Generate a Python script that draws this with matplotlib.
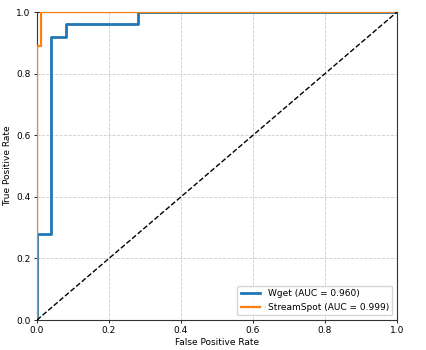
import matplotlib
matplotlib.use("Agg")
import matplotlib.pyplot as plt

wget_fpr = [0.0, 0.0, 0.04, 0.04, 0.08, 0.08, 0.28, 0.28, 1.0]
wget_tpr = [0.0, 0.28, 0.28, 0.92, 0.92, 0.96, 0.96, 1.0, 1.0]
ss_fpr = [0.0, 0.0, 0.01, 0.01, 1.0]
ss_tpr = [0.0, 0.89, 0.89, 1.0, 1.0]
labels = ["Wget (AUC = 0.960)", "StreamSpot (AUC = 0.999)"]

plt.rcParams['font.size'] = 6.5
fig = plt.figure(figsize=(4.26, 3.5), dpi=100)
ax = fig.add_axes([37/426, 1 - 320/350, 360/426, 308/350])
ax.plot(wget_fpr, wget_tpr, color="#1f77b4", lw=2, label=labels[0], zorder=2.6)
ax.plot(ss_fpr, ss_tpr, color="#ff7f0e", lw=1.6, label=labels[1], zorder=2.7)
ax.plot([0, 1], [0, 1], "k--", lw=1, zorder=2.8)
ax.set_xlim(0, 1)
ax.set_ylim(0, 1)
ax.set_xlabel("False Positive Rate", labelpad=2)
ax.set_ylabel("True Positive Rate", labelpad=3)
ax.grid(True, linestyle="--", color="#999999", linewidth=0.6, alpha=0.5)
ax.tick_params(length=2.5, pad=2, width=0.6)
for s in ax.spines.values():
    s.set_linewidth(0.8)
    s.set_color("#333333")
ax.legend(loc="lower right", fontsize=6.5, handlelength=2.2)
fig.savefig("out.png", dpi=100)
